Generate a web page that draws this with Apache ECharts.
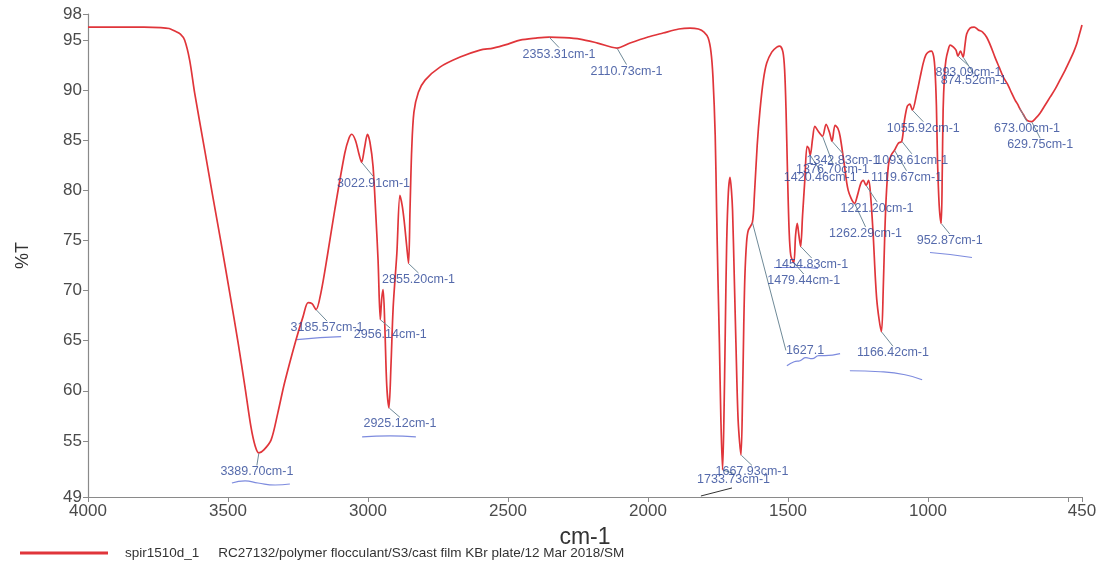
<!DOCTYPE html>
<html>
<head>
<meta charset="utf-8">
<title>spir1510d_1 IR spectrum</title>
<script src="https://cdn.jsdelivr.net/npm/echarts@6/dist/echarts.min.js"></script>
<style>
  html, body { margin: 0; padding: 0; background: #ffffff; }
  #chart { width: 1102px; height: 564px; }
</style>
</head>
<body>
<div id="chart"></div>
<script>
// ---- Spectrum: wavenumber (cm-1) and transmittance (%T) ----
const spectrumWn = [
  4000, 3900, 3800, 3740, 3710, 3690, 3670, 3655, 3637, 3619, 3583, 3555, 3525, 3494, 3464, 3440, 3418, 3403, 3389.70,
  3372, 3346, 3322, 3298, 3257, 3232, 3214, 3200, 3185.57, 3168, 3145, 3119, 3083, 3068, 3058, 3045, 3032,
  3022.91, 3012, 3002, 2993, 2982, 2972, 2964, 2956.14, 2951, 2946, 2940, 2933, 2925.12, 2918, 2910, 2897,
  2886, 2878, 2871, 2862, 2855.20, 2850, 2844, 2836, 2820, 2796, 2743, 2671, 2600, 2553, 2500, 2457, 2400,
  2353.31, 2300, 2243, 2180, 2110.73, 2064, 2000, 1946, 1890, 1850, 1820, 1800, 1785, 1775, 1768, 1760,
  1755, 1750, 1745, 1740, 1733.73, 1729, 1724, 1719, 1713, 1707, 1702, 1698, 1692, 1686, 1678, 1667.93,
  1662, 1658, 1654, 1648, 1642, 1627.1, 1620, 1610, 1600, 1588, 1576, 1558, 1540, 1529, 1518, 1512, 1507,
  1502, 1496, 1490, 1479.44, 1473, 1467, 1461, 1454.83, 1448, 1440, 1432, 1426, 1420.46, 1412, 1404, 1392,
  1376.70, 1364, 1352, 1342.83, 1332, 1322, 1314, 1300, 1285, 1262.29, 1252, 1240, 1231, 1221.20, 1212,
  1205, 1196, 1183, 1166.42, 1160, 1154, 1148, 1140, 1130, 1119.67, 1106, 1093.61, 1084, 1074, 1065,
  1055.92, 1040, 1028, 1017, 1008, 999, 988, 980, 975, 970, 966, 960, 952.87, 949, 946, 941, 936, 928, 921,
  909, 900, 893.09, 884, 874.52, 868, 862, 850, 835, 820, 805, 791, 776, 761, 746, 731, 716, 701, 689, 680,
  673.00, 660, 647, 629.75, 615, 600, 582, 564, 546, 529, 510, 493, 480, 469, 460, 450
];
const spectrumT = [
  96.3, 96.3, 96.3, 96.25, 96.15, 95.9, 95.6, 95.0, 93.0, 89.7, 84.0, 79.5, 74.8, 69.8, 64.8, 60.5, 56.4, 54.5, 53.8,
  54.1, 55.1, 57.8, 60.8, 65.1, 67.4, 68.8, 68.7, 68.1, 69.8, 73.5, 78.0, 83.7, 85.2, 85.6, 85.0, 83.6,
  82.8, 84.3, 85.6, 84.8, 82.4, 77.5, 73.0, 67.1, 69.2, 70.1, 66.5, 60.5, 58.3, 62.5, 68.4, 73.7,
  79.5, 78.5, 77.0, 74.5, 72.7, 78.0, 84.0, 87.8, 89.8, 91.0, 92.3, 93.3, 94.0, 94.2, 94.6, 95.0, 95.2,
  95.3, 95.25, 95.1, 94.7, 94.2, 94.7, 95.3, 95.7, 96.1, 96.2, 96.1, 95.8, 95.2, 93.8, 91.3, 85.5,
  78.0, 71.0, 64.8, 57.5, 52.1, 57.0, 66.0, 74.8, 79.8, 81.3, 80.0, 78.0, 71.5, 64.8, 57.0, 53.6,
  60.0, 66.5, 71.4, 74.8, 76.0, 76.8, 79.5, 84.5, 88.0, 91.0, 92.7, 93.8, 94.3, 94.4, 93.8, 92.0, 88.0,
  82.0, 76.0, 73.5, 72.8, 75.5, 76.7, 75.5, 74.4, 77.5, 81.0, 84.4, 84.2, 83.5, 85.2, 86.4, 85.9,
  85.4, 86.6, 85.8, 84.9, 86.5, 86.2, 85.4, 82.8, 80.0, 78.7, 79.5, 80.7, 81.0, 80.5, 81.0,
  79.5, 75.7, 69.1, 65.9, 70.0, 76.0, 80.0, 82.8, 83.6, 84.0, 84.7, 84.9, 87.0, 88.4, 88.6,
  88.0, 89.7, 91.3, 92.7, 93.5, 93.8, 93.9, 93.4, 92.0, 88.5, 83.0, 78.5, 76.7, 82.0, 88.0, 91.5, 93.0, 94.0, 94.5,
  94.3, 94.0, 93.4, 93.9, 93.3, 94.5, 95.6, 96.2, 96.3, 96.0, 95.8, 95.3, 94.4, 93.3, 92.3, 91.3, 90.6, 89.7, 89.0, 88.6,
  88.2, 87.6, 87.0, 86.85, 87.2, 87.7, 88.5, 89.3, 90.1, 91.0, 92.0, 93.0, 93.8, 94.6, 95.5, 96.5
];

// ---- Peak table (label text carries the peak wavenumber) ----
const peakLabels = [
  '3389.70cm-1', '3185.57cm-1', '3022.91cm-1', '2956.14cm-1', '2925.12cm-1', '2855.20cm-1',
  '2353.31cm-1', '2110.73cm-1', '1733.73cm-1', '1667.93cm-1', '1627.1', '1479.44cm-1',
  '1454.83cm-1', '1420.46cm-1', '1376.70cm-1', '1342.83cm-1', '1262.29cm-1', '1221.20cm-1',
  '1166.42cm-1', '1119.67cm-1', '1093.61cm-1', '1055.92cm-1', '952.87cm-1', '893.09cm-1',
  '874.52cm-1', '673.00cm-1', '629.75cm-1'
];
// label placement relative to its peak: [dx, dy] in pixels
const peakLabelOffsets = [
  [-39, 19], [-26, 18], [-25, 21], [-27, 15], [-26, 16], [-27, 16],
  [-27, 17], [-27, 23], [-26, 10], [-26, 17], [33, 128], [-27, 18],
  [-26, 18], [-27, 22], [-27, 33], [-26, 19], [-26, 30], [-26, 23],
  [-25, 21], [-24, 27], [-27, 19], [-26, 18], [-25, 17], [-23, 16],
  [-23, 23], [-26, 20], [-25, 23]
];

// ---- Axis ticks ----
const xLabelValues = [4000, 3500, 3000, 2500, 2000, 1500, 1000, 450];
const xTickValues = [4000, 3500, 3000, 2500, 2000, 1500, 1000, 500, 450];
const yTickValues = [55, 60, 65, 70, 75, 80, 85, 90, 95];
const yEnds = [49.4, 97.6];   // axis extent, labelled 49 and 98

// ---- Hand-written pen marks on the printout (wavenumber, %T) ----
const penStrokes = [
  [[3486, 50.8], [3439, 51.0], [3393, 50.8], [3332, 50.6], [3279, 50.7]],
  [[3254, 65.1], [3171, 65.3], [3096, 65.4]],
  [[3021, 55.4], [2921, 55.5], [2829, 55.4]],
  [[1550, 72.3], [1457, 72.3], [1393, 72.2]],
  [[1504, 62.5], [1478, 62.9], [1457, 63.0], [1436, 63.3], [1414, 63.2], [1390, 63.5], [1368, 63.5], [1314, 63.7]],
  [[1279, 62.0], [1171, 61.9], [1082, 61.6], [1021, 61.1]],
  [[993, 73.8], [921, 73.6], [843, 73.3]]
];
const tickStroke = [[1811, 49.5], [1700, 50.3]];

const seriesName = 'spir1510d_1';
const sampleInfo = 'RC27132/polymer flocculant/S3/cast film KBr plate/12 Mar 2018/SM';

// ---- Build series data ----
const spectrum = spectrumWn.map((w, i) => [w, spectrumT[i]]);
const peakWn = peakLabels.map(s => parseFloat(s));
const peaks = peakWn.map((w, i) => ({
  value: [w, spectrumT[spectrumWn.indexOf(w)]],
  name: peakLabels[i]
}));

const chart = echarts.init(document.getElementById('chart'), null, { renderer: 'canvas' });

const axisGray = '#8a8a8a';
const labelGray = '#4a4a4a';
const font = 'Liberation Sans, Arial, sans-serif';

const penSeries = penStrokes.map(stroke => ({
  type: 'line',
  data: stroke,
  smooth: true,
  symbol: 'none',
  silent: true,
  lineStyle: { color: '#6677d8', width: 1.2, opacity: 0.85 },
  z: 1
}));

chart.setOption({
  animation: false,
  backgroundColor: '#ffffff',
  grid: { left: 88, right: 20, top: 14, bottom: 67, containLabel: false },
  legend: {
    data: [seriesName],
    left: 15,
    top: 541,
    icon: 'rect',
    itemWidth: 88,
    itemHeight: 3,
    textStyle: {
      fontFamily: font,
      fontSize: 13.5,
      color: '#333',
      padding: [0, 0, 0, 12],
      rich: {
        n: { fontSize: 13.5, color: '#333', fontFamily: font },
        d: { fontSize: 13.5, color: '#333', fontFamily: font, padding: [0, 0, 0, 19] }
      }
    },
    formatter: name => '{n|' + name + '}{d|' + sampleInfo + '}'
  },
  xAxis: {
    type: 'value',
    inverse: true,
    min: 450,
    max: 4000,
    name: 'cm-1',
    nameLocation: 'middle',
    nameGap: 41,
    nameTextStyle: { fontFamily: font, fontSize: 23, color: '#333', verticalAlign: 'middle' },
    axisLine: { show: true, onZero: false, lineStyle: { color: axisGray, width: 1.2 } },
    axisTick: { show: true, inside: false, length: 5, customValues: xTickValues, lineStyle: { color: axisGray } },
    axisLabel: {
      customValues: xLabelValues,
      formatter: v => String(v),
      margin: 6,
      fontFamily: font,
      fontSize: 17,
      color: labelGray
    },
    splitLine: { show: false }
  },
  yAxis: {
    type: 'value',
    min: yEnds[0],
    max: yEnds[1],
    name: '%T',
    nameLocation: 'middle',
    nameGap: 56,
    nameRotate: 90,
    nameTextStyle: { fontFamily: font, fontSize: 18, color: '#333' },
    axisLine: { show: true, onZero: false, lineStyle: { color: axisGray, width: 1.2 } },
    axisTick: { show: true, length: 5, customValues: [yEnds[0]].concat(yTickValues, [yEnds[1]]), lineStyle: { color: axisGray } },
    axisLabel: {
      customValues: [yEnds[0]].concat(yTickValues, [yEnds[1]]),
      formatter: v => String(Math.round(v)),
      margin: 6,
      fontFamily: font,
      fontSize: 17,
      color: labelGray
    },
    splitLine: { show: false }
  },
  series: [
    {
      name: seriesName,
      type: 'line',
      data: spectrum,
      smooth: 0.3,
      symbol: 'none',
      color: '#e0353a',
      lineStyle: { color: '#e0353a', width: 1.7 },
      z: 3
    },
    {
      type: 'scatter',
      data: peaks,
      symbol: 'circle',
      symbolSize: 1,
      itemStyle: { color: 'rgba(0,0,0,0)' },
      silent: true,
      label: {
        show: true,
        position: 'right',
        distance: 0,
        formatter: p => p.name,
        fontFamily: font,
        fontSize: 12.5,
        color: '#2a4596'
      },
      labelLine: {
        show: true,
        lineStyle: { color: '#6f8a98', width: 1 }
      },
      labelLayout: p => {
        const o = peakLabelOffsets[p.dataIndex];
        return { dx: o[0], dy: o[1] };
      },
      z: 4
    },
    {
      type: 'line',
      data: tickStroke,
      symbol: 'none',
      silent: true,
      lineStyle: { color: '#333', width: 1 },
      z: 2
    }
  ].concat(penSeries)
});
</script>
</body>
</html>
